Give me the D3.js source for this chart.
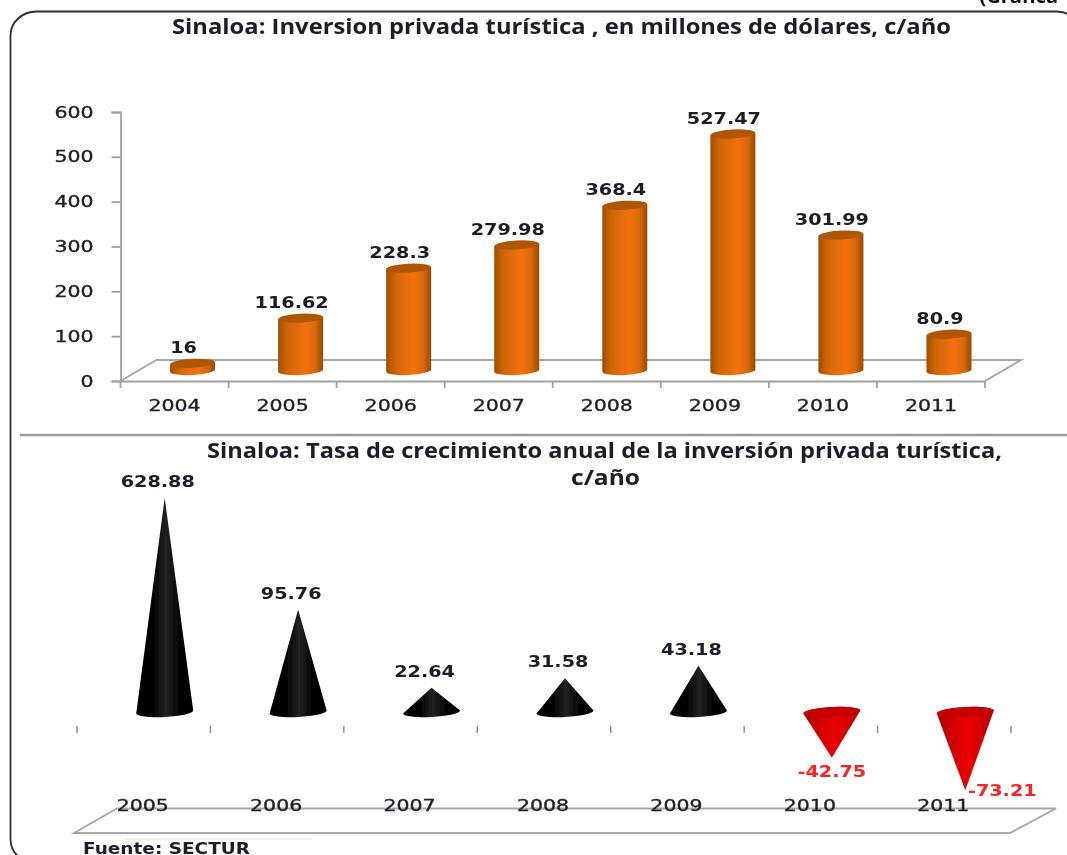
<!DOCTYPE html>
<html>
<head>
<meta charset="utf-8">
<script src="https://d3js.org/d3.v7.min.js"></script>
<style>
  html, body { margin: 0; padding: 0; background: #fff; overflow: hidden; }
  svg { display: block; }
  text { fill: #1c1c2c; }
</style>
</head>
<body>
<svg id="chart" width="1067" height="855"></svg>
<script>
// data
var years = ["2004", "2005", "2006", "2007", "2008", "2009", "2010", "2011"];
var inversion = [16, 116.62, 228.3, 279.98, 368.4, 527.47, 301.99, 80.9];
var yTicks = [0, 100, 200, 300, 400, 500, 600];

var growthYears = ["2005", "2006", "2007", "2008", "2009", "2010", "2011"];
var growth = [628.88, 95.76, 22.64, 31.58, 43.18, -42.75, -73.21];

var titleTop = "Sinaloa: Inversion privada turística , en millones de dólares, c/año";
var titleBottom1 = "Sinaloa: Tasa de crecimiento anual de la inversión privada turística,";
var titleBottom2 = "c/año";
var source = "Fuente: SECTUR";
var cornerNote = "(Gráfica";

var svg = d3.select("#chart");
var wide = "'DejaVu Sans', sans-serif";
var narrow = "'Open Sans', sans-serif";
var ink = "#1c1c2c";

// the picture is stretched sideways, so the text gets stretched the same way
function stretch(sel, k) {
    sel.each(function() {
        this.setAttribute("textLength", this.getComputedTextLength() * k);
        this.setAttribute("lengthAdjust", "spacingAndGlyphs");
    });
}

// gradients
var defs = svg.append("defs");
function gradient(id, stops) {
    var g = defs.append("linearGradient").attr("id", id);
    stops.forEach(function(s) {
        g.append("stop").attr("offset", s[0]).attr("stop-color", s[1]);
    });
}
gradient("orange", [[0, "#a04e00"], [0.2, "#cf6506"], [0.6, "#f3710c"], [0.82, "#d9690a"], [1, "#984a00"]]);
gradient("black", [[0, "#000"], [0.3, "#030303"], [0.52, "#222"], [0.75, "#040404"], [1, "#000"]]);
gradient("red", [[0, "#a80000"], [0.3, "#d40000"], [0.55, "#ea0000"], [0.8, "#d00000"], [1, "#a80000"]]);
defs.append("filter").attr("id", "soft")
    .append("feGaussianBlur").attr("stdDeviation", 0.45);

var root = svg.append("g").attr("filter", "url(#soft)");

// frame, runs off the right and bottom of the page
root.append("rect")
    .attr("x", 10.5).attr("y", 11.5)
    .attr("width", 1072).attr("height", 852)
    .attr("rx", 26).attr("ry", 24)
    .attr("fill", "none")
    .attr("stroke", "#2e2e2e")
    .attr("stroke-width", 1.8);

root.append("text")
    .attr("x", 1058).attr("y", 3)
    .attr("text-anchor", "end")
    .attr("font-family", narrow)
    .attr("font-size", 20)
    .attr("font-weight", 700)
    .style("fill", "#111")
    .text(cornerNote);

// divider between the two charts
root.append("line")
    .attr("x1", 20).attr("x2", 1067)
    .attr("y1", 435).attr("y2", 435)
    .attr("stroke", "#9a9a9a")
    .attr("stroke-width", 2.5);

function title(text, x, y, len) {
    root.append("text")
        .attr("x", x).attr("y", y)
        .attr("font-family", narrow)
        .attr("font-size", 21)
        .attr("font-weight", 700)
        .attr("textLength", len)
        .attr("lengthAdjust", "spacingAndGlyphs")
        .text(text);
}
title(titleTop, 172, 34, 779);
title(titleBottom1, 207, 458, 795);
title(titleBottom2, 571, 485, 69);

// ---------- top chart ----------
var x = d3.scaleBand().domain(years).range([120.5, 985]);
var y = d3.scaleLinear().domain([0, 600]).range([381, 112]);
var depthX = 36, depthY = -21;   // floor depth

var floor = d3.path();
floor.moveTo(x.range()[0], y(0));
floor.lineTo(x.range()[0] + depthX, y(0) + depthY);
floor.lineTo(x.range()[1] + depthX, y(0) + depthY);
floor.lineTo(x.range()[1], y(0));
root.append("path")
    .attr("d", floor.toString())
    .attr("fill", "none")
    .attr("stroke", "#a8a8a8")
    .attr("stroke-width", 1.8);

var gy = root.append("g")
    .attr("transform", "translate(" + x.range()[0] + ",0)")
    .call(d3.axisLeft(y).tickValues(yTicks).tickSize(9).tickPadding(18));
var gx = root.append("g")
    .attr("transform", "translate(0," + y(0) + ")")
    .call(d3.axisBottom(x).tickSize(0).tickPadding(19));

[gy, gx].forEach(function(g) {
    g.select(".domain").attr("stroke", "#a0a0a0").attr("stroke-width", 1.8);
    g.selectAll(".tick line").attr("stroke", "#a0a0a0").attr("stroke-width", 1.8);
    g.selectAll("text")
        .attr("font-family", wide)
        .attr("font-size", 16)
        .attr("fill", ink)
        .attr("stroke", ink)
        .attr("stroke-width", 0.35)
        .call(stretch, 1.28);
});

// x ticks sit on the band edges
root.selectAll(".edgeTick")
    .data(d3.range(years.length + 1))
    .enter().append("line")
    .attr("x1", function(i) { return x.range()[0] + i * x.step(); })
    .attr("x2", function(i) { return x.range()[0] + i * x.step(); })
    .attr("y1", y(0))
    .attr("y2", y(0) + 7)
    .attr("stroke", "#a0a0a0")
    .attr("stroke-width", 1.8);

var barRx = 22.5, barRy = 4.5, tilt = -3;
var lean = 1.2;   // how far the ellipse ends drop or rise with the tilt

var bars = root.selectAll(".bar")
    .data(inversion)
    .enter().append("g")
    .attr("class", "bar")
    .attr("transform", function(d, i) {
        return "translate(" + (x(years[i]) + x.bandwidth() / 2 + depthX / 2) + "," + (y(0) + depthY / 2) + ")";
    });

bars.append("path")
    .attr("fill", "url(#orange)")
    .attr("d", function(d) {
        var h = y(0) - y(d);
        return "M" + (-barRx) + "," + (lean - h) + "L" + (-barRx) + "," + lean
            + "A" + barRx + "," + barRy + " " + tilt + " 0 0 " + barRx + "," + (-lean)
            + "L" + barRx + "," + (-lean - h) + "Z";
    });

bars.append("ellipse")
    .attr("rx", barRx)
    .attr("ry", barRy)
    .attr("fill", "#ae5700")
    .attr("transform", function(d) {
        return "translate(0," + (y(d) - y(0)) + ") rotate(" + tilt + ")";
    });

bars.append("text")
    .attr("x", -9)
    .attr("y", function(d) { return y(d) - y(0) - 10; })
    .attr("text-anchor", "middle")
    .attr("font-family", wide)
    .attr("font-size", 16)
    .attr("font-weight", 700)
    .text(function(d) { return d; })
    .call(stretch, 1.2);

// ---------- bottom chart ----------
var x2 = d3.scaleBand().domain(growthYears).range([77, 1011]);
// the axis tops out near 200, so the 628.88 cone is cut short like in the original
var y2 = d3.scaleLinear().domain([-100, 200]).range([819, 498]).clamp(true);
var coneRx = 28.5, coneRy = 5, coneLean = 1.5;

root.selectAll(".edgeTick2")
    .data(d3.range(growthYears.length + 1))
    .enter().append("line")
    .attr("x1", function(i) { return x2.range()[0] + i * x2.step(); })
    .attr("x2", function(i) { return x2.range()[0] + i * x2.step(); })
    .attr("y1", 726)
    .attr("y2", 733)
    .attr("stroke", "#8a8a8a")
    .attr("stroke-width", 1.4);

// floor under the year labels
var floor2 = d3.path();
floor2.moveTo(x2.range()[0] - 3, 833);
floor2.lineTo(x2.range()[0] + 40, 808.5);
floor2.lineTo(x2.range()[1] + 45, 808.5);
floor2.lineTo(x2.range()[1] - 1, 833);
floor2.closePath();
root.append("path")
    .attr("d", floor2.toString())
    .attr("fill", "none")
    .attr("stroke", "#a8a8a8")
    .attr("stroke-width", 1.8);

root.append("line")
    .attr("x1", 125).attr("x2", 312)
    .attr("y1", 839).attr("y2", 839)
    .attr("stroke", "#dcdcdc");

root.selectAll(".floorLabel")
    .data(growthYears)
    .enter().append("text")
    .attr("class", "floorLabel")
    .attr("x", function(d) { return x2(d) + x2.bandwidth() / 2 - 1; })
    .attr("y", 811)
    .attr("text-anchor", "middle")
    .attr("font-family", wide)
    .attr("font-size", 16)
    .attr("stroke", ink)
    .attr("stroke-width", 0.35)
    .text(function(d) { return d; })
    .call(stretch, 1.28);

var cones = root.selectAll(".cone")
    .data(growth)
    .enter().append("g")
    .attr("class", "cone")
    .attr("transform", function(d, i) {
        return "translate(" + (x2(growthYears[i]) + x2.bandwidth() / 2 + 21) + "," + y2(0) + ")";
    });

cones.append("path")
    .attr("fill", function(d) { return d < 0 ? "url(#red)" : "url(#black)"; })
    .attr("d", function(d) {
        var h = y2(d) - y2(0);
        var ends = "M" + (-coneRx) + "," + coneLean + "L0," + h + "L" + coneRx + "," + (-coneLean);
        // upward cones show the round front of the base, downward ones get a lid
        return ends + "A" + coneRx + "," + coneRy + " " + tilt + " 0 " + (d < 0 ? "0 " : "1 ")
            + (-coneRx) + "," + coneLean + "Z";
    });

cones.filter(function(d) { return d < 0; })
    .append("ellipse")
    .attr("rx", coneRx)
    .attr("ry", coneRy)
    .attr("fill", "#c40000")
    .attr("transform", "rotate(" + tilt + ")");

cones.append("text")
    .attr("x", function(d) {
        if (d < -60) return 37;   // last label was pushed to the side of its tip
        return d < 0 ? 0 : -7;
    })
    .attr("y", function(d) {
        var tip = y2(d) - y2(0);
        if (d < -60) return tip + 6;
        return d < 0 ? tip + 19 : tip - 11;
    })
    .attr("text-anchor", "middle")
    .attr("font-family", wide)
    .attr("font-size", 16)
    .attr("font-weight", 700)
    .style("fill", function(d) { return d < 0 ? "#ff2020" : ink; })
    .text(function(d) { return d; })
    .call(stretch, 1.2);

root.append("text")
    .attr("x", 83).attr("y", 854)
    .attr("font-family", wide)
    .attr("font-size", 15)
    .attr("font-weight", 700)
    .attr("textLength", 167)
    .attr("lengthAdjust", "spacingAndGlyphs")
    .text(source);
</script>
</body>
</html>
